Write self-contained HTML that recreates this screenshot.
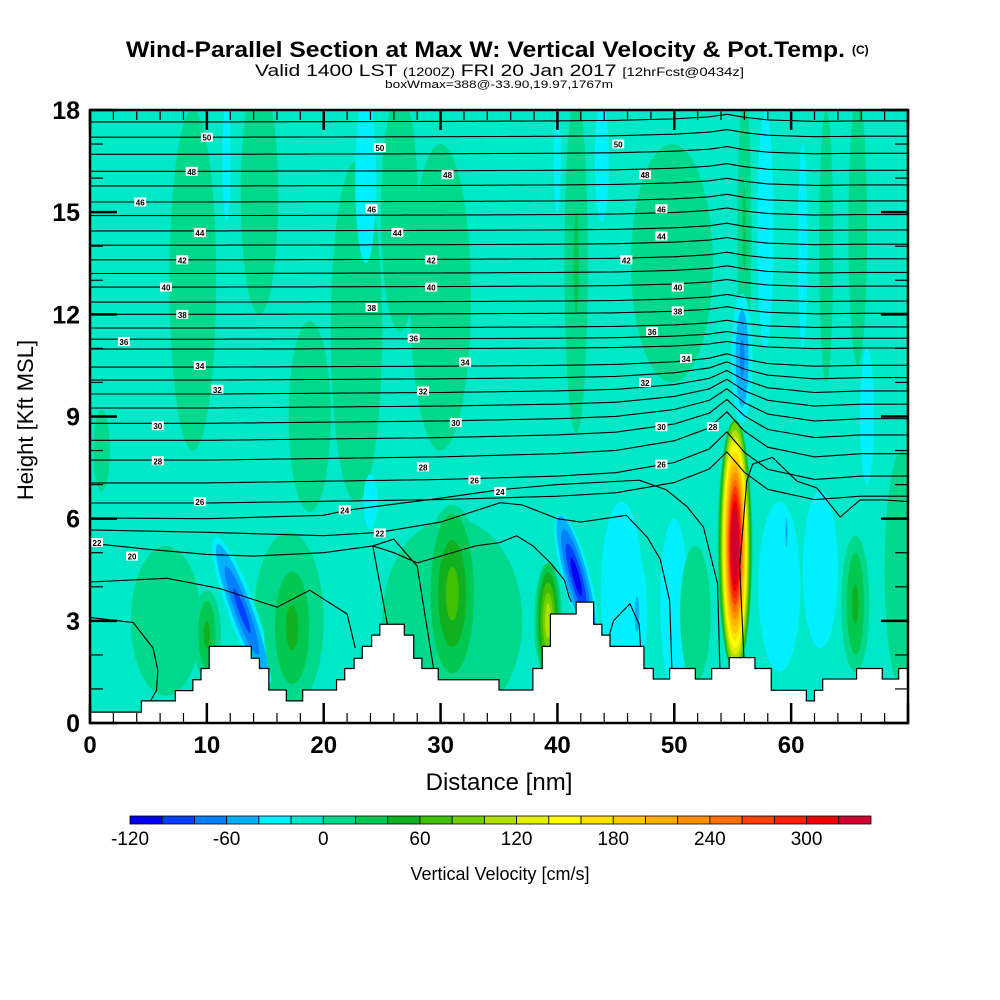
<!DOCTYPE html>
<html><head><meta charset="utf-8">
<style>
html,body{margin:0;padding:0;background:#fff;width:1000px;height:1000px;overflow:hidden}
svg{display:block}
text{font-family:"Liberation Sans",sans-serif;fill:#000}
</style></head>
<body>
<svg id="chart" width="1000" height="1000" viewBox="0 0 1000 1000" xmlns="http://www.w3.org/2000/svg">
  <text x="126" y="57" font-size="22" font-weight="bold" textLength="719" lengthAdjust="spacingAndGlyphs">Wind-Parallel Section at Max W: Vertical Velocity &amp; Pot.Temp.</text>
  <text x="852" y="54" font-size="12" font-weight="bold">(C)</text>
  <text x="255" y="76" font-size="17" textLength="489" lengthAdjust="spacingAndGlyphs">Valid 1400 LST <tspan font-size="12">(1200Z)</tspan> FRI 20 Jan 2017 <tspan font-size="12">[12hrFcst@0434z]</tspan></text>
  <text x="385" y="88" font-size="11" textLength="228" lengthAdjust="spacingAndGlyphs">boxWmax=388@-33.90,19.97,1767m</text>
  <defs><clipPath id="plotclip"><rect x="90" y="110" width="818" height="613"/></clipPath></defs>
  <rect x="90" y="110" width="818" height="613" fill="#00e8c8"/>
  <g id="field" clip-path="url(#plotclip)"></g>
  <g id="contours" clip-path="url(#plotclip)"></g>
  <g id="terrain" clip-path="url(#plotclip)"></g>
  <g id="clabels"></g>
  <g id="axes"></g>
  <text transform="translate(33,420) rotate(-90)" text-anchor="middle" font-size="22">Height [Kft MSL]</text>
  <text x="499" y="790" text-anchor="middle" font-size="24">Distance [nm]</text>
  <g id="colorbar"></g>
  <text x="500" y="880" text-anchor="middle" font-size="18">Vertical Velocity [cm/s]</text>
</svg>
<script>
// ---- colour scale ----
const cbColors = ['#0000f0','#0040ff','#0080ff','#00b0ff','#00f0ff','#00e8c8','#00d88c','#00c850','#10b020','#40c000','#70d000','#b0e000','#e0f000','#ffff00','#ffe000','#ffc800','#ffb000','#ff9000','#ff7000','#ff4000','#ff2000','#f00000','#d00030'];
const cbTicks = [-120,-60,0,60,120,180,240,300];
const cbMin = -120, cbStep = 20;

// ---- vertical velocity features ----
const featD   = [31,  6.5,17, 8.8,14.5,18.8,22.8,26.5,30,  49.8,41.6,56,  63,  65.7,1,   11.7,23.6,43.8,57.8,40,  61,  66.5,55.8,10, 13, 17.3,24, 31, 39.2,45.5,50, 46.8,41.6,51.8,59, 62.5,65.5,69.5,59.6,55.2];
const featH   = [3,   3,  3,  13, 15.5,9,   11.5,15,  12.5,13.5,13.5,14.5,14,  14.5,8,   16.5,16,  16.5,14.5,16.5,14,  9,   10.7,2.6,3.3,2.8,6.5,3.8,3,  3.8, 3.5,3.2,4.3,3.2,4,  4.5,3.5,4.5,5.6,5.2];
const featRX  = [6,   3,  3,  2,  1.6, 1.8, 2.2, 1.6, 2.6, 3.5, 1,   0.6, 0.6, 0.8, 0.7, 0.35,0.9, 0.6, 0.7, 0.3, 0.4, 0.6, 0.9, 1.2,1.2,2.4,0.6,2.5,1.2,1.8, 1.2,0.9,1.2,1.3,1.8,1.5,1.2,1.5,0.15,1.5];
const featRY  = [3,   2.2,2.6,5,  3.5, 2.8, 5,   3.5, 4.5, 3.5, 5,   4,   4,   4,   1.2, 1.8, 2.5, 1.8, 3.5, 1.5, 3,   2,   1.9, 1.3,2.3,2.2,0.8,2.6,1.7,2.7, 2.5,1.7,1.9,2,  2.5,2.3,2,  3.5,0.6,3.7];
const featV   = [10,  10, 10, 10, 10,  10,  10,  10,  10,  10,  30,  30,  10,  10,  10,  -30, -30, -30, -30, -30, -30, -30, -70, 50, -90,50, -30,70, 110,-30, -30,-50,-110,10,-30,-30,50, 10, -70,320];
const featRot = [0,   0,  0,  0,  0,   0,   0,   0,   0,   0,   0,   0,   0,   0,   0,   0,   0,   0,   0,   0,   0,   0,   0,   0,  -20,0,  0,  0,  0,  0,   0,  0,  -15,0,  0,  0,  0,  0,  0,  0];

// ---- terrain steps ----
const terrD = [0,4.4,7.3,8.8,9.5,10.2,13.8,14.5,15.3,16.8,18.2,21.1,21.8,22.6,23.3,24.1,24.8,26.9,27.7,28.4,29.8,35.0,37.2,37.9,38.7,39.4,41.6,43.1,43.8,44.5,47.4,48.2,49.6,51.8,53.2,54.7,56.9,58.3,61.3,62.0,62.7,65.6,67.8,69.2];
const terrH = [0.32,0.65,0.95,1.27,1.6,2.25,1.9,1.6,0.97,0.65,0.97,1.27,1.6,1.9,2.25,2.58,2.9,2.58,1.9,1.6,1.27,0.97,0.97,1.6,2.25,3.2,3.55,2.9,2.58,2.25,1.6,1.29,1.6,1.29,1.6,1.92,1.6,0.96,0.65,0.96,1.29,1.6,1.29,1.6,1.92];

// ---- potential temperature contours ----
const thetaLevels = [17.65,17.2,16.7,16.2,15.77,15.3,14.9,14.45,14.03,13.6,13.2,12.8,12.36,12.0,11.6,11.27,10.98,10.45,10.07,9.66,9.25,8.8,8.3,7.72,7.05,6.46];
const dispD = [0,10,20,30,40,45,50,53,54.5,56,58,62,66,70];
const dispH = [0,0,0.05,0.1,0.2,0.3,0.6,1.0,1.5,0.9,0.4,0.1,0.2,0.2];
const low24D = [0,10,20,22,30,35.1,40,47,49.3,51.1,52.5,53.7,53.9];
const low24H = [6.02,6.0,6.1,6.25,6.6,6.85,7.0,7.13,6.85,6.35,5.75,4.1,1.6];
const low22D = [0,10,20,24.8,30,35.1,37,40,42,45.9,47.7,48.8,49.6,49.8];
const low22H = [5.67,5.6,5.5,5.6,5.9,6.47,6.4,6.0,5.9,6.1,5.45,4.8,3.6,1.6];
const low20D = [0,5,10,14,20,24.2,26,28,30,33,35.1,36.5,37.9,39.4,40.6,41,41.2];
const low20H = [5.28,5.1,4.95,4.9,5.0,5.2,5.0,4.7,4.9,5.2,5.3,5.5,5.2,4.7,4.2,3.7,3.55];
const lowAD = [0,6.6,11.1,16,18.8,22,22.7];
const lowAH = [4.14,4.25,3.95,3.4,3.9,3.2,2.2];
const lowBD = [0,3.7,5.4,5.8,5.7,5.1];
const lowBH = [3.1,2.95,2.2,1.55,0.97,0.6];
const lowFD = [56,55.6,56.2,56.7,58.4,60.5,62.2,64.2,65.9,67.9,70];
const lowFH = [1.6,4.6,7.1,7.6,7.8,7.1,6.9,6.05,6.55,6.55,6.5];
const lowGD = [25.5,24.2,26,28,29.5];
const lowGH = [2.8,5.2,5.4,4.6,1.4];
const lowHD = [44.2,44.8,46.2,47,47.2,46.8];
const lowHH = [2.3,3.0,3.5,2.9,1.7,1.6];

// contour labels
const labD = [10,8.7,4.3,9.4,7.9,6.5,7.9,2.9,9.4,10.9,5.8,5.8,9.4,0.6,3.6,24.8,30.6,24.1,26.3,29.2,29.2,24.1,27.7,32.1,28.5,31.3,28.5,32.9,21.8,24.8,45.2,47.5,48.9,48.9,45.9,50.3,50.3,48.1,51,47.5,48.9,53.3,48.9,35.1];
const labH = [17.2,16.2,15.3,14.4,13.6,12.8,12.0,11.2,10.5,9.8,8.73,7.7,6.5,5.3,4.9,16.9,16.1,15.1,14.4,13.6,12.8,12.2,11.3,10.6,9.75,8.82,7.52,7.14,6.26,5.58,17.0,16.1,15.1,14.3,13.6,12.8,12.1,11.5,10.7,10.0,8.7,8.7,7.6,6.8];
const labT = ['50','48','46','44','42','40','38','36','34','32','30','28','26','22','20','50','48','46','44','42','40','38','36','34','32','30','28','26','24','22','50','48','46','44','42','40','38','36','34','32','30','28','26','24'];

const yTicks = [0,3,6,9,12,15,18];
const xTicks = [0,10,20,30,40,50,60];

const X0=90, X1=908, Y0=723, Y1=110, DMAX=70, HMAX=18;
const X = d => X0 + d*(X1-X0)/DMAX;
const Y = h => Y0 - h*(Y0-Y1)/HMAX;
const SX = d => d*(X1-X0)/DMAX;
const SY = h => h*(Y0-Y1)/HMAX;
const NS='http://www.w3.org/2000/svg';
function mk(tag, attrs, parent){const e=document.createElementNS(NS,tag);for(const k in attrs)e.setAttribute(k,attrs[k]);parent.appendChild(e);return e;}
const levelIdx = v => Math.max(0,Math.min(cbColors.length-1,Math.floor((v-cbMin)/cbStep)));

const field=document.getElementById('field');
const bgIdx=5;
for(let i=0;i<featD.length;i++){
  const li=levelIdx(featV[i]);
  const n=Math.abs(li-bgIdx); if(n===0) continue;
  const dir=li>bgIdx?1:-1;
  const g=mk('g',{transform:`rotate(${featRot[i]} ${X(featD[i])} ${Y(featH[i])})`},field);
  
  
  for(let k=1;k<=n;k++){
    const s=n===1?1:1-(k-1)/(n-1)*0.78;
    const el=mk('ellipse',{cx:X(featD[i]),cy:Y(featH[i]),rx:SX(featRX[i])*s,ry:SY(featRY[i])*Math.min(1,s*1.15+0.05),fill:cbColors[bgIdx+dir*k]},g);
    
    
  }
}

const cont=document.getElementById('contours');
function interp(xs,ys,x){if(x<=xs[0])return ys[0];for(let i=1;i<xs.length;i++){if(x<=xs[i]){const t=(x-xs[i-1])/(xs[i]-xs[i-1]);return ys[i-1]+t*(ys[i]-ys[i-1]);}}return ys[ys.length-1];}
thetaLevels.forEach(h0=>{
  const f=Math.max(0.15,Math.min(1,(11.5-h0)/4));
  let pts=[];
  for(let d=0;d<=DMAX;d+=0.5){pts.push(X(d).toFixed(1)+','+Y(h0+f*interp(dispD,dispH,d)).toFixed(1));}
  const p=mk('polyline',{points:pts.join(' '),fill:'none',stroke:'#000','stroke-width':1.1},cont);
  
  
});
[[low24D,low24H],[low22D,low22H],[low20D,low20H],[lowAD,lowAH],[lowBD,lowBH],[lowFD,lowFH],[lowGD,lowGH],[lowHD,lowHH]].forEach(([ds,hs])=>{
  const p=mk('polyline',{points:ds.map((d,i)=>X(d).toFixed(1)+','+Y(hs[i]).toFixed(1)).join(' '),fill:'none',stroke:'#000','stroke-width':1.1},cont);
  
  
});

const terr=document.getElementById('terrain');
let tp=[X(0)+','+(Y0+2)];
for(let i=0;i<terrD.length;i++){
  const x0=X(terrD[i]), x1=i+1<terrD.length?X(terrD[i+1]):X1+2;
  tp.push(x0+','+Y(terrH[i])); tp.push(x1+','+Y(terrH[i]));
}
tp.push((X1+2)+','+(Y0+2));
const tpoly=mk('polygon',{points:tp.join(' '),fill:'#fff',stroke:'#000','stroke-width':1.2},terr);



const cl=document.getElementById('clabels');
for(let i=0;i<labD.length;i++){
  const r=mk('rect',{x:X(labD[i])-6,y:Y(labH[i])-4.5,width:12,height:9,fill:'#fff'},cl);
  
  
  const t=mk('text',{x:X(labD[i]),y:Y(labH[i])+3.5,'font-size':8,'font-weight':'bold','text-anchor':'middle'},cl);
  
  
  t.textContent=labT[i];
}

const ax=document.getElementById('axes');
const frame=mk('rect',{x:X0,y:Y1,width:X1-X0,height:Y0-Y1,fill:'none',stroke:'#000','stroke-width':2.5},ax);


for(let h=0;h<=HMAX;h++){
  const major=h%3===0, L=major?27:13;
  mk('line',{x1:X0,y1:Y(h),x2:X0+L,y2:Y(h),stroke:'#000','stroke-width':major?2.5:1.2},ax);
  mk('line',{x1:X1,y1:Y(h),x2:X1-L,y2:Y(h),stroke:'#000','stroke-width':major?2.5:1.2},ax);
}
for(let d=0;d<=DMAX;d+=2){
  const major=d%10===0, L=major?20:10;
  mk('line',{x1:X(d),y1:Y0,x2:X(d),y2:Y0-L,stroke:'#000','stroke-width':major?2.5:1.2},ax);
  mk('line',{x1:X(d),y1:Y1,x2:X(d),y2:Y1+L,stroke:'#000','stroke-width':major?2.5:1.2},ax);
}
yTicks.forEach(v=>{
  const t=mk('text',{x:80,y:Y(v)+9,'font-size':25,'font-weight':'bold','text-anchor':'end'},ax);
  
  
  t.textContent=v;
});
xTicks.forEach(v=>{
  const t=mk('text',{x:X(v),y:Y0+30,'font-size':24,'font-weight':'bold','text-anchor':'middle'},ax);
  
  
  t.textContent=v;
});

const cb=document.getElementById('colorbar');
const CB0=130, CBW=(871-130)/cbColors.length;
cbColors.forEach((c,i)=>{
  const r=mk('rect',{x:CB0+i*CBW,y:816,width:CBW,height:8,fill:c,stroke:'#000','stroke-width':0.8},cb);
  
  
});
cbTicks.forEach(v=>{
  const t=mk('text',{x:CB0+(v-cbMin)/cbStep*CBW,y:845,'font-size':19,'text-anchor':'middle'},cb);
  
  
  t.textContent=v;
});
</script>
</body></html>
